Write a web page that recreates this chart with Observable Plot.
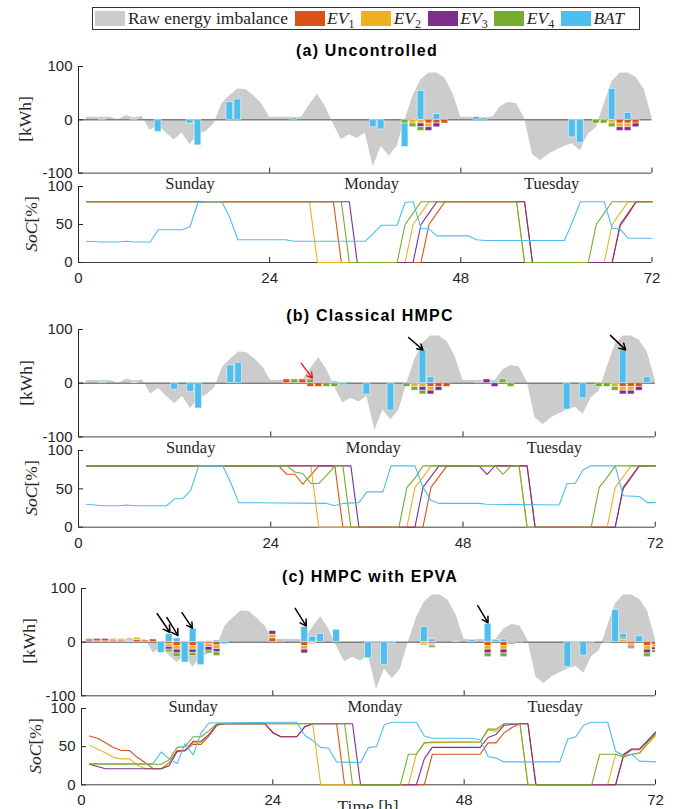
<!DOCTYPE html>
<html>
<head>
<meta charset="utf-8">
<script src="https://cdn.jsdelivr.net/npm/d3@7"></script>
<script src="https://cdn.jsdelivr.net/npm/@observablehq/plot@0.6"></script>
<style>
html,body{margin:0;padding:0;background:#fff;}
#fig{position:relative;width:681px;height:809px;overflow:hidden;background:#fff;}
.pnl{position:absolute;}
.pnl svg{overflow:visible;display:block;max-width:none;}
.lbl{position:absolute;white-space:nowrap;transform:translate(-50%,-50%);color:#262626;line-height:1.15;}
.ttl{font-family:"Liberation Sans",Arial,sans-serif;font-weight:bold;font-size:16px;letter-spacing:1.2px;color:#000;}
.ylab{font-family:"Liberation Serif","Times New Roman",serif;font-size:17.5px;transform:translate(-50%,-50%) rotate(-90deg);}
.xlab{font-family:"Liberation Serif","Times New Roman",serif;font-size:17.5px;}
#legend{position:absolute;left:91.7px;top:6.7px;width:544px;height:21.3px;border:1px solid #333;display:flex;align-items:center;font-family:"Liberation Serif","Times New Roman",serif;font-size:17.5px;color:#262626;box-sizing:content-box;padding-left:2.6px;}
.sw{width:30px;height:15px;flex:none;margin-right:2.6px;}
.it{display:flex;align-items:center;white-space:nowrap;}
.it + .it{margin-left:6.6px;}
sub{font-size:12px;vertical-align:-4px;line-height:0;font-style:normal;}
</style>
</head>
<body>
<div id="fig"></div>
<script>
// ---------------- data ----------------
const hours = [1,2,3,4,5,6,7,8,9,10,11,12,13,14,15,16,17,18,19,20,21,22,23,24,25,26,27,28,29,30,31,32,33,34,35,36,
  37,38,39,40,41,42,43,44,45,46,47,48,49,50,51,52,53,54,55,56,57,58,59,60,61,62,63,64,65,66,67,68,69,70,71,72];
const rawImbalance = [5,5,5,5,0,8,4,6,-20,-10,
  -25,-38,-25,-47,-28,-22,-8,30,45,58,
  57,45,30,5,5,5,5,5,28,48,
  25,-8,-37,-28,-35,-25,-88,-50,-68,-50,
  0,45,75,88,88,78,50,5,5,5,
  5,5,25,33,30,3,-65,-77,-65,-57,
  -50,-45,-58,-27,-15,30,72,88,88,80,
  58,5];
const seriesNames = ["EV1","EV2","EV3","EV4","BAT"];
const seriesColors = ["#D95319","#EDB120","#7E2F8E","#77AC30","#4DBEEE"];
const rawLabel = "Raw energy imbalance";
const rawColor = "#cccccc";
const dayNames = ["Sunday","Monday","Tuesday"];
const dayHours = [14, 36.8, 59.4];
const xTicks = [0,24,48,72];
const energyTicks = [-100,0,100];
const socTicks = [0,50,100];
const panelTitles = ["(a) Uncontrolled","(b) Classical HMPC","(c) HMPC with EPVA"];
const energyLabel = "[kWh]";
const xLabel = "Time [h]";

// energy bars [hour, kWh]  (a) Uncontrolled
const barA_EV1 = [[44,-7],[45,-7],[46,-7],[68,-7],[69,-7],[70,-7]];
const barA_EV2 = [[42,-7],[43,-7],[44,-7],[67,-7],[68,-7],[69,-7]];
const barA_EV3 = [[43,-7],[44,-7],[45,-7],[68,-7],[69,-7],[70,-7]];
const barA_EV4 = [[41,-7],[42,-7],[43,-7],[65,-7],[66,-7],[67,-7]];
const barA_BAT = [[3,2],[7,2],[10,-23],[14,-7],[15,-48],[19,33],[20,38],[27,3],[37,-14],[38,-18],[41,-44],[43,54],[45,11],[50,5],[51,3],[62,-33],[63,-43],[67,58],[69,13]];
// (b) Classical HMPC
const barB_EV1 = [[26,7],[28,7],[29,-7],[30,-7],[44,-7],[45,-7],[46,-7],[68,-7],[69,-7],[70,-7]];
const barB_EV2 = [[42,-7],[43,-7],[44,-7],[67,-7],[68,-7],[69,-7]];
const barB_EV3 = [[43,-7],[44,-7],[45,-7],[50,1],[51,7],[52,-7],[68,-7],[69,-7],[70,-7]];
const barB_EV4 = [[27,7],[29,7],[31,-7],[32,-7],[41,-7],[42,-7],[43,-7],[53,7],[54,-7],[65,-7],[66,-7],[67,-7]];
const barB_BAT = [[3,2],[7,1],[12,-12],[14,-16],[15,-47],[19,33],[20,38],[32,3],[33,-4],[36,-21],[39,-51],[43,61],[44,11],[52,3],[61,-49],[63,-28],[68,61],[71,11]];
// (c) HMPC with EPVA
const barC_EV1 = [[2,3],[3,3],[4,3],[5,3],[7,4],[8,3],[9,5],[11,-4],[12,-7],[14,-7],[16,-3],[17,-6],[24,7],[25,2],[28,-7],[29,-2],[44,-3],[47,1],[51,-7],[53,-7],[54,-2],[69,-4],[71,-7],[72,-5]];
const barC_EV2 = [[4,3],[5,3],[7,4],[11,-5],[12,-7],[14,-7],[16,-6],[17,-7],[24,7],[28,-7],[29,-2],[43,-3],[44,-3],[51,-7],[53,-7],[68,4],[69,-3],[71,-7],[72,-5]];
const barC_EV3 = [[1,3],[2,3],[3,3],[11,-5],[12,-7],[14,-6],[16,-7],[17,-6],[24,7],[25,2],[28,-7],[44,-2],[51,-7],[53,-7],[54,-2],[55,-2],[69,-3],[71,-7],[72,-5]];
const barC_EV4 = [[1,3],[11,-5],[12,-7],[14,-6],[16,-5],[17,-7],[43,-3],[44,-3],[51,-7],[53,-7],[68,3],[69,-3],[71,-7],[72,-5]];
const barC_BAT = [[6,1],[10,-20],[11,15],[12,7],[13,-38],[14,25],[15,-43],[16,2],[17,3],[18,-4],[24,1],[28,28],[29,10],[30,15],[32,23],[36,-30],[37,-1],[38,-42],[39,-3],[43,28],[44,5],[49,4],[51,34],[52,4],[53,5],[61,-46],[62,-2],[63,-25],[64,-1],[66,-1],[67,60],[68,8],[70,11]];

// state of charge [hour, %]
const socA_EV1 = [[1,80],[32,80],[33,0],[43,0],[44,50],[45,65],[46,80],[56,80],[57,0],[67,0],[68,48],[69,63],[70,80],[72,80]];
const socA_EV2 = [[1,80],[29,80],[30,0],[41,0],[42,50],[43,65],[44,80],[55,80],[56,0],[66,0],[67,50],[68,65],[69,80],[72,80]];
const socA_EV3 = [[1,80],[34,80],[35,0],[42,0],[43,50],[44,65],[45,80],[56,80],[57,0],[67,0],[68,50],[69,65],[70,80],[72,80]];
const socA_EV4 = [[1,80],[33,80],[34,0],[40,0],[41,50],[42,65],[43,80],[55,80],[56,0],[64,0],[65,50],[66,65],[67,80],[72,80]];
const socA_BAT = [[1,28],[3,27],[5,27],[6,28],[7,27],[9,27],[10,43],[13,43],[14,47],[15,79],[16,80],[18,80],[19,59],[20,30],[26,30],[27,28],[36,28],[37,38],[38,49],[40,49],[41,79],[42,80],[43,45],[44,44],[45,35],[49,35],[50,30],[51,29],[61,29],[62,53],[63,80],[66,80],[67,45],[68,44],[69,32],[72,32]];

const socB_EV1 = [[1,80],[25,80],[26,69],[27,69],[28,56],[29,68],[30,80],[32,80],[33,0],[43,0],[44,52],[45,66],[46,80],[56,80],[57,0],[67,0],[68,50],[69,65],[70,80],[72,80]];
const socB_EV2 = [[1,80],[29,80],[30,0],[41,0],[42,52],[43,65],[44,80],[55,80],[56,0],[66,0],[67,52],[68,66],[69,80],[72,80]];
const socB_EV3 = [[1,80],[34,80],[35,0],[42,0],[43,52],[44,66],[45,80],[50,80],[51,69],[52,80],[56,80],[57,0],[67,0],[68,52],[69,66],[70,80],[72,80]];
const socB_EV4 = [[1,80],[26,80],[27,72],[28,70],[29,57],[30,57],[31,68],[32,80],[33,80],[34,0],[40,0],[41,52],[42,64],[43,80],[52,80],[53,69],[54,80],[55,80],[56,0],[64,0],[65,52],[66,65],[67,80],[72,80]];
const socB_BAT = [[1,30],[2,29],[3,28],[5,28],[6,29],[7,28],[11,28],[12,37],[13,37],[14,48],[15,80],[18,80],[19,58],[20,32],[31,31],[32,28],[33,31],[35,32],[36,46],[38,46],[39,80],[42,80],[43,52],[44,35],[45,31],[50,31],[51,30],[60,29],[61,57],[62,57],[63,75],[64,80],[67,80],[68,41],[70,40],[71,32],[72,32]];

const socC_EV1 = [[1,64],[2,61],[3,55],[4,49],[5,45],[6,45],[7,36],[8,29],[9,21],[10,21],[11,29],[12,45],[13,45],[14,53],[15,53],[16,64],[17,78],[18,80],[23,80],[24,69],[25,63],[27,63],[28,76],[29,80],[32,80],[33,0],[43,0],[44,40],[50,40],[51,55],[52,55],[53,68],[54,75],[55,80],[56,80],[57,0],[67,0],[68,38],[69,46],[70,46],[71,57],[72,68]];
const socC_EV2 = [[1,52],[2,47],[3,42],[4,36],[5,34],[6,34],[7,26],[8,21],[10,21],[11,28],[12,43],[13,44],[14,55],[15,55],[16,66],[17,79],[18,80],[29,80],[30,0],[41,0],[42,40],[43,55],[50,56],[51,72],[52,70],[53,80],[55,80],[56,0],[66,0],[67,40],[68,37],[69,40],[70,41],[71,53],[72,64]];
const socC_EV3 = [[1,27],[2,24],[3,21],[10,21],[11,25],[12,44],[13,45],[14,57],[15,57],[16,66],[17,79],[18,80],[23,80],[24,68],[25,63],[27,63],[28,76],[29,80],[34,80],[35,0],[42,0],[43,34],[44,49],[50,49],[51,62],[52,66],[53,78],[54,79],[55,80],[56,80],[57,0],[67,0],[68,40],[69,47],[70,47],[71,58],[72,69]];
const socC_EV4 = [[1,27],[10,27],[11,33],[12,49],[13,50],[14,63],[15,63],[16,71],[17,80],[33,80],[34,0],[40,0],[41,40],[42,40],[43,55],[44,56],[50,56],[51,73],[52,73],[53,80],[55,80],[56,0],[64,0],[65,40],[67,40],[68,36],[69,40],[70,42],[71,55],[72,66]];
const socC_BAT = [[1,28],[9,28],[10,43],[11,34],[12,28],[13,54],[14,39],[15,68],[16,81],[26,82],[27,82],[28,65],[29,58],[30,49],[31,48],[32,30],[35,29],[36,49],[37,50],[38,79],[39,82],[42,82],[43,64],[44,61],[49,61],[50,59],[51,37],[52,35],[53,30],[60,30],[61,60],[62,63],[63,78],[64,82],[66,82],[67,44],[68,38],[69,40],[70,31],[72,30]];

// annotation arrows [hour1, kWh1, hour2, kWh2]
const arrowsA = [];
const redArrowsA = [];
const arrowsB = [[41.2,85,43.0,62],[66.4,89,68.3,62]];
const redArrowsB = [[27.8,37,29.2,9.5]];
const arrowsC = [[9.5,53,11.1,18],[10.7,46,12.1,12],[12.6,55,13.9,26],[26.8,63,28.2,30],[49.7,68,51.0,36]];
const redArrowsC = [];

// ---------------- layout ----------------
const SANS = '"Liberation Sans", Arial, sans-serif';
const SERIF = '"Liberation Serif", "Times New Roman", serif';
const panels = [
  {x0:77.5, x1:651,   eTop:65.7,  eBot:172.3, sTop:185.7, sBot:261.7, title:[367,50.5], kwh:[25,119],    soc:[31,223.7],
   bars:[barA_EV1,barA_EV2,barA_EV3,barA_EV4,barA_BAT], soc_:[socA_EV1,socA_EV2,socA_EV3,socA_EV4,socA_BAT], arrows:arrowsA, red:redArrowsA},
  {x0:77.7, x1:654.5, eTop:329.3, eBot:436.7, sTop:450,   sBot:526.7, title:[370,316], kwh:[26,383],    soc:[31,488.3],
   bars:[barB_EV1,barB_EV2,barB_EV3,barB_EV4,barB_BAT], soc_:[socB_EV1,socB_EV2,socB_EV3,socB_EV4,socB_BAT], arrows:arrowsB, red:redArrowsB},
  {x0:81.3, x1:655.3, eTop:587.7, eBot:695,   sTop:707.7, sBot:784,   title:[370,577], kwh:[28.5,641.3], soc:[34.5,746],
   bars:[barC_EV1,barC_EV2,barC_EV3,barC_EV4,barC_BAT], soc_:[socC_EV1,socC_EV2,socC_EV3,socC_EV4,socC_BAT], arrows:arrowsC, red:redArrowsC}
];

const fig = document.getElementById("fig");
const ML = 60, MR = 20, MT = 10, MB = 30;

function toRows(arrs) {
  const rows = [];
  seriesNames.forEach((s, i) => { for (const [h, v] of arrs[i]) rows.push({h, s, v}); });
  return rows;
}
function place(svg, left, top) {
  const d = document.createElement("div");
  d.className = "pnl";
  d.style.left = (left - ML) + "px";
  d.style.top = (top - MT) + "px";
  d.appendChild(svg);
  fig.appendChild(d);
}
function addLabel(cls, html, cx, cy) {
  const d = document.createElement("div");
  d.className = "lbl " + cls;
  d.innerHTML = html;
  d.style.left = cx + "px";
  d.style.top = cy + "px";
  fig.appendChild(d);
}
const rawRows = hours.map((h, i) => ({h, v: rawImbalance[i]}));
const common = (w, h) => ({
  width: w + ML + MR, height: h + MT + MB,
  marginLeft: ML, marginRight: MR, marginTop: MT, marginBottom: MB,
  color: {domain: seriesNames, range: seriesColors},
  style: {background: "transparent", overflow: "visible", fontFamily: SANS, fontSize: "15px", color: "#262626"}
});

panels.forEach((p, k) => {
  const w = p.x1 - p.x0;
  // energy panel
  const eh = p.eBot - p.eTop;
  const energy = Plot.plot({
    ...common(w, eh),
    x: {domain: [0, 72], axis: null, label: null},
    y: {domain: [-100, 100], axis: null, label: null},
    marks: [
      Plot.areaY(rawRows, {x: "h", y1: 0, y2: "v", fill: rawColor}),
      Plot.ruleY([0], {stroke: "#808080", strokeWidth: 1.5}),
      Plot.rectY(toRows(p.bars), {x1: d => d.h - 0.42, x2: d => d.h + 0.42, y: "v", fill: "s",
        stroke: "#ffffff", strokeWidth: 0.8, strokeOpacity: 0.6, clip: true}),
      Plot.arrow(p.arrows, {x1: d => d[0], y1: d => d[1], x2: d => d[2], y2: d => d[3], stroke: "#000", strokeWidth: 1.5, headLength: 10}),
      Plot.arrow(p.red, {x1: d => d[0], y1: d => d[1], x2: d => d[2], y2: d => d[3], stroke: "#ff0000", strokeWidth: 1.2, headLength: 9}),
      Plot.text(dayNames, {x: (d, i) => dayHours[i], y: -100, dy: 11, text: d => d, fontFamily: SERIF, fontSize: 16.5, fill: "#262626"}),
      Plot.ruleX([0], {stroke: "#262626"}),
      Plot.ruleY([-100], {stroke: "#404040"}),
      Plot.axisY({ticks: energyTicks, tickSize: -5, tickPadding: 11, tickFormat: d => String(d), label: null, stroke: "#262626", fill: "#262626", fontSize: 15}),
      Plot.axisX({ticks: [24, 48, 72], tickSize: -5, tickFormat: () => "", label: null, stroke: "#262626"})
    ]
  });
  place(energy, p.x0, p.eTop);

  // SoC panel
  const sh = p.sBot - p.sTop;
  const soc = Plot.plot({
    ...common(w, sh),
    x: {domain: [0, 72], axis: null, label: null},
    y: {domain: [0, 100], axis: null, label: null},
    marks: [
      Plot.ruleX([0], {stroke: "#262626"}),
      Plot.ruleY([0], {stroke: "#404040"}),
      Plot.line(toRows(p.soc_), {x: "h", y: "v", z: "s", stroke: "s", strokeWidth: 1.1}),
      Plot.axisY({ticks: socTicks, tickSize: -5, tickPadding: 11, tickFormat: d => String(d), label: null, stroke: "#262626", fill: "#262626", fontSize: 15}),
      Plot.axisX({ticks: xTicks, tickSize: -5, tickPadding: 15, tickFormat: d => String(d), label: null, stroke: "#262626", fill: "#262626", fontSize: 15})
    ]
  });
  place(soc, p.x0, p.sTop);

  addLabel("ttl", panelTitles[k], p.title[0], p.title[1]);
  addLabel("ylab", energyLabel, p.kwh[0], p.kwh[1]);
  addLabel("ylab", "<i>SoC</i>[%]", p.soc[0], p.soc[1]);
});
addLabel("xlab", xLabel, 368, 806);

// legend
const legend = document.createElement("div");
legend.id = "legend";
const items = [{c: rawColor, html: rawLabel}].concat(seriesNames.map((s, i) => ({
  c: seriesColors[i],
  html: s.startsWith("EV") ? `<i>EV</i><sub>${s.slice(2)}</sub>` : `<i>${s}</i>`
})));
for (const it of items) {
  const d = document.createElement("div");
  d.className = "it";
  d.innerHTML = `<span class="sw" style="background:${it.c}"></span><span>${it.html}</span>`;
  legend.appendChild(d);
}
fig.appendChild(legend);
</script>
</body>
</html>
